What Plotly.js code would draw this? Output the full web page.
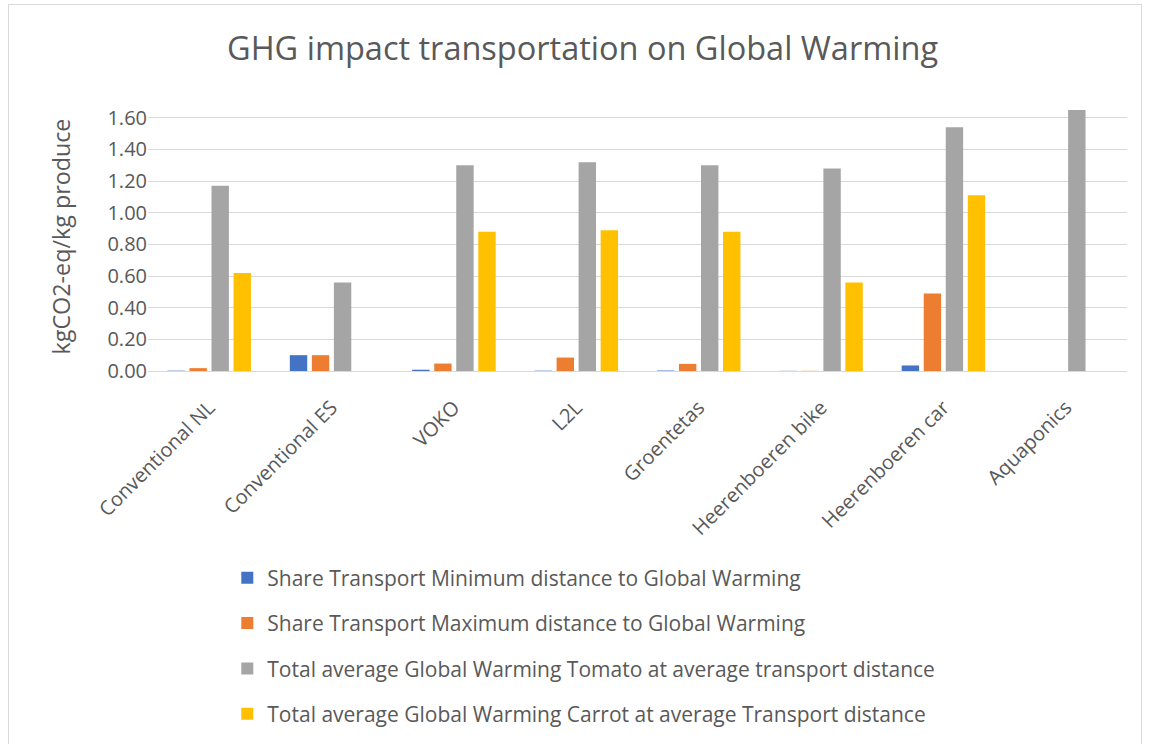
<!DOCTYPE html>
<html>
<head>
<meta charset="utf-8">
<script src="https://cdn.plot.ly/plotly-3.0.1.min.js"></script>
<style>
html,body{margin:0;padding:0;background:#fff;overflow:hidden;}
#frame{position:absolute;left:8px;top:4px;width:1134px;height:800px;border:1px solid #d9d9d9;box-sizing:border-box;}
#chart{position:absolute;left:0;top:0;width:1149px;height:744px;}
</style>
</head>
<body>
<div id="frame"></div>
<div id="chart"></div>
<script>
var categories = ["Conventional NL","Conventional ES","VOKO","L2L","Groentetas","Heerenboeren bike","Heerenboeren car","Aquaponics"];
var seriesNames = [
  "Share Transport Minimum distance to Global Warming",
  "Share Transport Maximum distance to Global Warming",
  "Total average Global Warming Tomato at average transport distance",
  "Total average Global Warming Carrot at average Transport distance"
];
var shareMin = [0.002, 0.10, 0.008, 0.002, 0.003, 0.001, 0.035, null];
var shareMax = [0.018, 0.10, 0.047, 0.085, 0.045, 0.001, 0.49, null];
var tomato   = [1.17, 0.56, 1.30, 1.32, 1.30, 1.28, 1.54, 1.65];
var carrot   = [0.62, null, 0.88, 0.89, 0.88, 0.56, 1.11, null];
var yTicks = [0, 0.2, 0.4, 0.6, 0.8, 1.0, 1.2, 1.4, 1.6];

var colors = ["#4472C4", "#ED7D31", "#A5A5A5", "#FFC000"];
var values = [shareMin, shareMax, tomato, carrot];
var txt = "#595959";

var data = values.map(function(v, i){
  return {
    type: "bar",
    x: categories,
    y: v,
    name: seriesNames[i],
    legendgroup: "g" + i,
    marker: {color: colors[i], line: {width: 0}},
    hoverinfo: "x+y+name"
  };
});

var layout = {
  width: 1149, height: 744,
  paper_bgcolor: "rgba(0,0,0,0)",
  plot_bgcolor: "rgba(0,0,0,0)",
  margin: {l: 148, r: 22, t: 102, b: 373},
  font: {family: "Open Sans, sans-serif", color: txt, size: 18},
  title: {text: "GHG impact transportation on Global Warming", font: {size: 32.5, color: txt}, x: 0.507, xanchor: "center", y: 0.935, yanchor: "middle"},
  barmode: "group",
  bargap: 0.28,
  bargroupgap: 0.21,
  xaxis: {
    type: "category",
    tickangle: -45,
    tickfont: {size: 20, color: txt},
    showgrid: false,
    showline: true,
    linecolor: "#d9d9d9",
    linewidth: 1,
    ticks: "",
    ticklabelstandoff: 16,
    fixedrange: true
  },
  yaxis: {
    range: [0, 1.7],
    tickvals: yTicks,
    tickformat: ".2f",
    tickfont: {size: 20, color: txt},
    showgrid: true,
    gridcolor: "#d9d9d9",
    gridwidth: 1,
    zeroline: false,
    showline: false,
    ticks: "",
    ticklen: 0,
    title: {text: "kgCO2-eq/kg produce", font: {size: 23.3, color: txt}, standoff: 30},
    fixedrange: true
  },
  showlegend: true,
  legend: {
    orientation: "v",
    xref: "paper",
    x: 0.081, xanchor: "left",
    yref: "container",
    y: 0.2505, yanchor: "top",
    font: {size: 21, color: txt},
    traceorder: "grouped",
    tracegroupgap: 15,
    bgcolor: "rgba(0,0,0,0)"
  }
};

Plotly.newPlot("chart", data, layout, {displayModeBar: false, staticPlot: true});
</script>
</body>
</html>
